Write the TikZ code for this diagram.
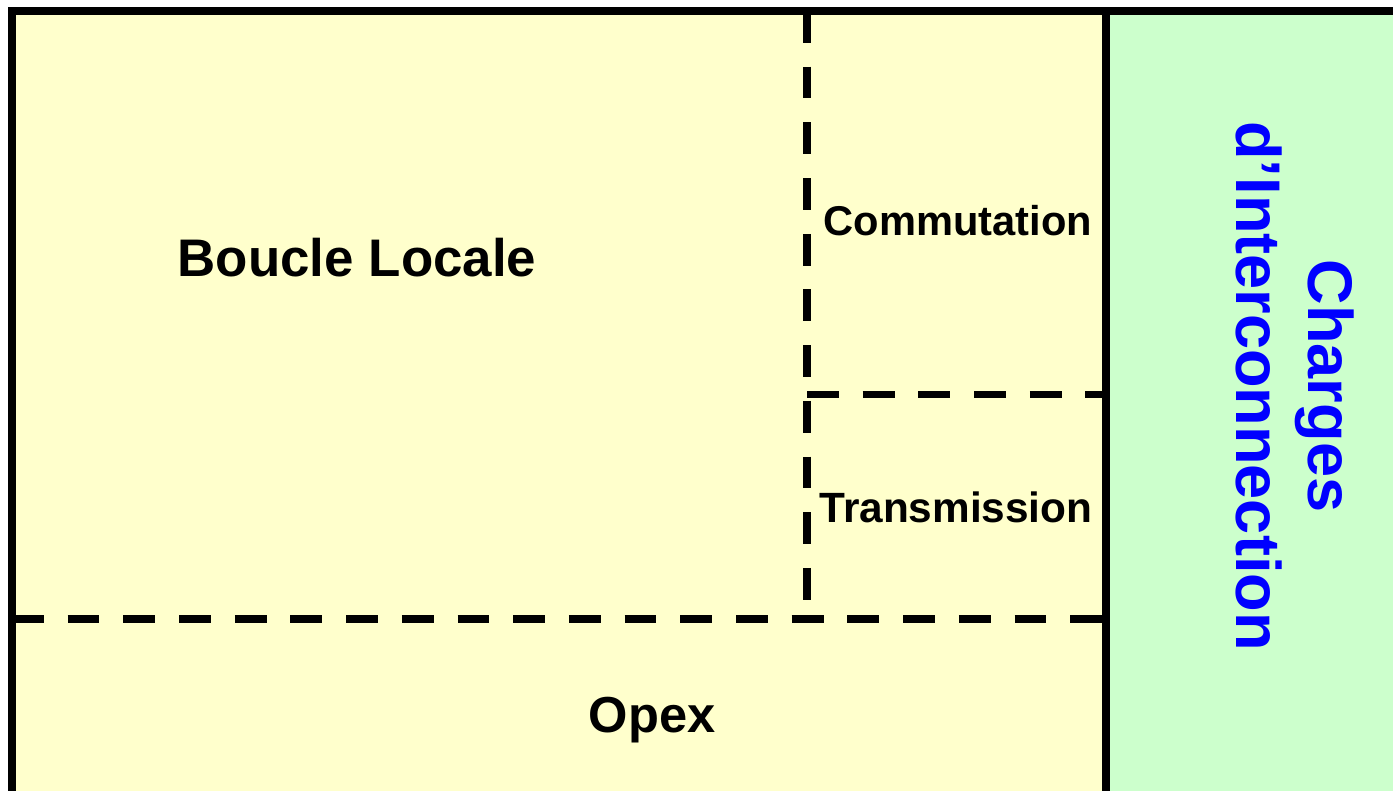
\documentclass[tikz,border=0pt]{standalone}
\usepackage{fontspec}
\setmainfont{Liberation Sans}
\usepackage{tikz}
\usetikzlibrary{positioning}
\definecolor{costyellow}{RGB}{255,255,204}
\definecolor{costgreen}{RGB}{204,255,204}
\definecolor{costblue}{RGB}{0,0,255}

\begin{document}
\begin{tikzpicture}[x=0.02cm, y=-0.02cm]
    \useasboundingbox (0,0) rectangle (1393,791);

    % Areas
    \fill[costyellow] (12,11) rectangle (1106,791);
    \fill[costgreen] (1106,11) rectangle (1393,791);

    % Separators
    \draw[line width=4.5pt, dash pattern=on 18.1pt off 13.6pt] (807,11) -- (807,619);
    \draw[line width=4.5pt, dash pattern=on 18.1pt off 13.6pt] (807,394.5) -- (1106,394.5);
    \draw[line width=4.5pt, dash pattern=on 18.1pt off 13.6pt] (12,619) -- (1106,619);

    % Frame
    \draw[line width=4.5pt] (12,791) -- (12,11) -- (1393,11);
    \draw[line width=4.5pt] (1106,11) -- (1106,791);

    % Labels
    \node[anchor=base, inner sep=0pt, font=\fontsize{30.1}{35}\selectfont\bfseries] 
          (boucle) at (357,276) {Boucle Locale};
    \node[anchor=base, inner sep=0pt, font=\fontsize{23.7}{28}\selectfont\bfseries] 
          (commut) at (958,235) {Commutation};
    \node[anchor=base, inner sep=0pt, font=\fontsize{24.1}{28}\selectfont\bfseries] 
          (transm) at (956,522) {Transmission};
    \node[anchor=base, inner sep=0pt, font=\fontsize{28.8}{34}\selectfont\bfseries] 
          (opex) at (652,732) {Opex};

    % Interconnection
    \node[rotate=-90, align=center, inner sep=0pt, text=costblue, 
          font=\fontsize{35.9}{41.4}\selectfont\bfseries] 
          (interco) at (1295,386) {Charges\\d’Interconnection};
\end{tikzpicture}
\end{document}
